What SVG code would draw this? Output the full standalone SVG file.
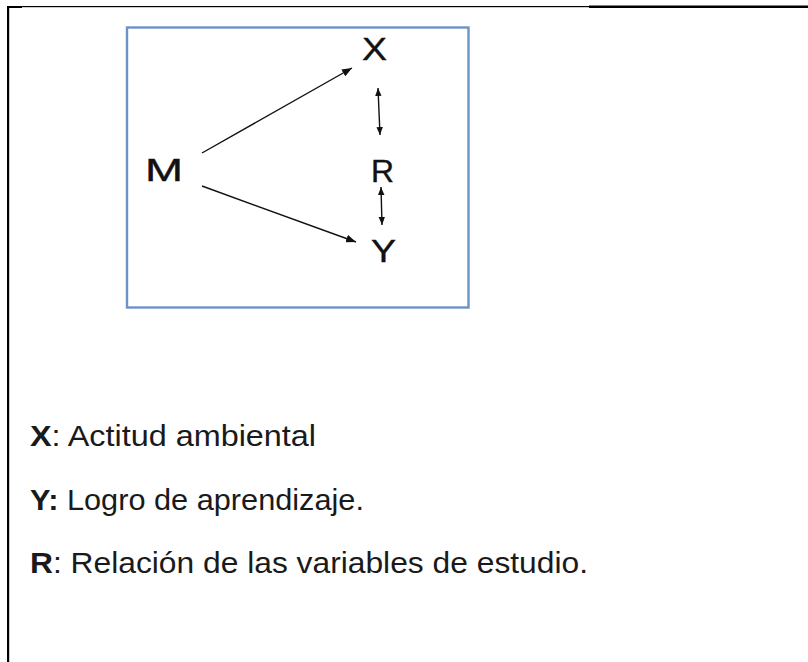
<svg xmlns="http://www.w3.org/2000/svg" width="808" height="662" viewBox="0 0 808 662">
<defs>
<style>
.lbl{font-family:"Liberation Sans",Arial,sans-serif;font-size:31px;fill:#111;stroke:#111;stroke-width:0.4}
.leg{font-family:"Liberation Sans",Arial,sans-serif;font-size:29px;fill:#1a1a1a}
.b{font-weight:bold}
.edge{stroke:#111;stroke-width:1.4;fill:none}
</style>
<marker id="ah" viewBox="0 0 10 8" refX="10" refY="4" markerWidth="10" markerHeight="8" markerUnits="userSpaceOnUse" orient="auto-start-reverse">
<path d="M0,0 L10,4 L0,8 Z" fill="#111"/>
</marker>
<marker id="ahs" viewBox="0 0 10 8" refX="10" refY="4" markerWidth="8" markerHeight="7" markerUnits="userSpaceOnUse" orient="auto-start-reverse">
<path d="M0,0 L10,4 L0,8 Z" fill="#111"/>
</marker>
</defs>
<rect width="808" height="662" fill="#fff"/>
<g id="frame" fill="#000">
<rect x="7" y="6" width="2.2" height="656"/>
<rect x="7" y="6" width="15" height="2"/>
<rect x="22" y="6" width="567" height="1.2"/>
<rect x="589" y="5.5" width="219" height="2.5"/>
</g>
<g id="box">
<rect x="127" y="27.5" width="341.5" height="280" fill="none" stroke="#6b93c4" stroke-width="2.4"/>
</g>
<g id="connectors">
<line class="edge" x1="202" y1="153" x2="352" y2="68" marker-end="url(#ah)"/>
<line class="edge" x1="202" y1="186" x2="356" y2="242" marker-end="url(#ah)"/>
<line class="edge" x1="378" y1="88" x2="380" y2="135" marker-start="url(#ahs)" marker-end="url(#ahs)"/>
<line class="edge" x1="381" y1="187" x2="382" y2="225" marker-start="url(#ahs)" marker-end="url(#ahs)"/>
</g>
<g id="node-M"><text class="lbl" x="145" y="181" textLength="38" lengthAdjust="spacingAndGlyphs">M</text></g>
<g id="node-X"><text class="lbl" x="362" y="60" textLength="25" lengthAdjust="spacingAndGlyphs">X</text></g>
<g id="node-R"><text class="lbl" x="371" y="182" textLength="23" lengthAdjust="spacingAndGlyphs">R</text></g>
<g id="node-Y"><text class="lbl" x="371" y="262" textLength="25" lengthAdjust="spacingAndGlyphs">Y</text></g>
<g id="legend">
<text class="leg" x="30" y="446" textLength="286" lengthAdjust="spacingAndGlyphs"><tspan class="b">X</tspan>: Actitud ambiental</text>
<text class="leg" x="30" y="510" textLength="334" lengthAdjust="spacingAndGlyphs"><tspan class="b">Y:</tspan> Logro de aprendizaje.</text>
<text class="leg" x="30" y="573" textLength="558" lengthAdjust="spacingAndGlyphs"><tspan class="b">R</tspan>: Relación de las variables de estudio.</text>
</g>
</svg>
